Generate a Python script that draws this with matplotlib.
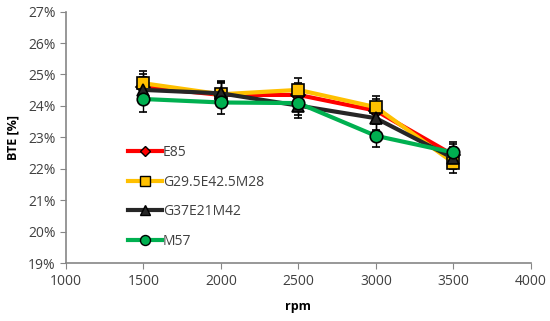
import matplotlib
matplotlib.use('Agg')
import matplotlib.pyplot as plt
from matplotlib.lines import Line2D
from matplotlib.ticker import PercentFormatter, MultipleLocator

plt.rcParams['font.family'] = ['Open Sans', 'DejaVu Sans']

# data (BTE in %)
rpm = [1500, 2000, 2500, 3000, 3500]
e85 = [24.60, 24.35, 24.35, 23.85, 22.44]
g29 = [24.72, 24.37, 24.51, 23.96, 22.20]
g37 = [24.51, 24.40, 24.01, 23.61, 22.34]
m57 = [24.22, 24.11, 24.09, 23.05, 22.52]
err = [0.40, 0.38, 0.38, 0.36, 0.34]

series = [
    ('E85', e85, '#ff0000', 'D', 7),
    ('G29.5E42.5M28', g29, '#ffc000', 's', 9),
    ('G37E21M42', g37, '#262626', '^', 9),
    ('M57', m57, '#00b050', 'o', 9),
]

fig = plt.figure(figsize=(5.5, 3.21), dpi=100)
ax = fig.add_axes([0.12, 0.18, 0.845, 0.784])

handles = []
for name, vals, color, marker, ms in series:
    ax.errorbar(rpm, vals, yerr=err, color=color, lw=3, marker=marker, ms=ms,
                mfc=color, mec='black', mew=1.2, ecolor='black', elinewidth=1,
                capsize=3, capthick=1)
    handles.append(Line2D([], [], color=color, lw=3, marker=marker, ms=ms * 0.8,
                          mfc=color, mec='black', mew=1.0, label=name))

ax.set_xlim(1000, 4000)
ax.set_ylim(19, 27)
ax.xaxis.set_major_locator(MultipleLocator(500))
ax.yaxis.set_major_locator(MultipleLocator(1))
ax.yaxis.set_major_formatter(PercentFormatter(decimals=0))

for s in ['top', 'right']:
    ax.spines[s].set_visible(False)
for s in ['left', 'bottom']:
    ax.spines[s].set_color('#868686')
    ax.spines[s].set_linewidth(1.2)
ax.tick_params(colors='#868686', labelcolor='#404040', labelsize=10, length=4, direction='out')

ax.set_xlabel('rpm', fontsize=9, fontweight='bold', labelpad=8)
ax.set_ylabel('BTE [%]', fontsize=9, fontweight='bold', labelpad=6)

leg = ax.legend(handles=handles, loc='lower left', bbox_to_anchor=(0.122, 0.035),
                frameon=False, fontsize=10, handlelength=2.4, labelspacing=1.05,
                handletextpad=0.1, borderaxespad=0)
for t in leg.get_texts():
    t.set_color('#404040')

fig.savefig('out.png', dpi=100)
